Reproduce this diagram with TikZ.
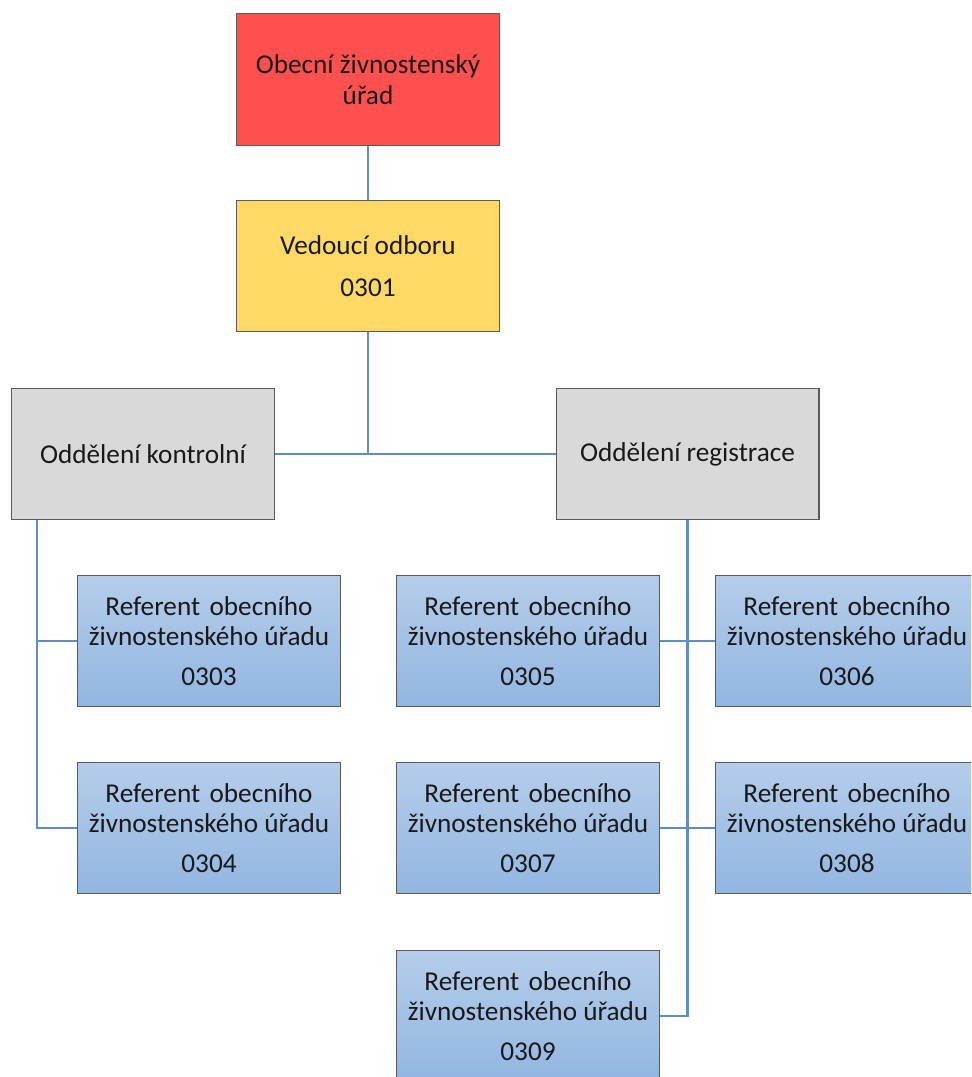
\documentclass[tikz,border=0pt]{standalone}
\usepackage{fontspec}
\setmainfont{Carlito}
\usetikzlibrary{positioning}

\definecolor{uradred}{RGB}{255,80,80}
\definecolor{vedyellow}{RGB}{255,217,102}
\definecolor{oddgray}{RGB}{217,217,217}
\definecolor{reftop}{RGB}{181,205,234}
\definecolor{refbottom}{RGB}{146,182,225}
\definecolor{linkblue}{RGB}{96,142,196}
\definecolor{edgegray}{RGB}{90,90,90}

\begin{document}
\begin{tikzpicture}[
    x=0.02cm, y=-0.02cm,
    % Common look of all boxes
    every node/.style={
        align=center,
        inner sep=0pt,
        text=black!90,
        font=\fontsize{15.5}{17.5}\selectfont
    },
    boxbase/.style={
        draw=edgegray,
        line width=0.6pt,
        minimum width=5.26cm,
        minimum height=2.63cm
    },
    % Box styles for the levels
    urad box/.style={boxbase, fill=uradred},
    head box/.style={boxbase, fill=vedyellow},
    dept box/.style={boxbase, fill=oddgray},
    ref box/.style={
        boxbase,
        top color=reftop,
        bottom color=refbottom
    },
    link/.style={draw=linkblue, line width=1.6pt}
]
    \useasboundingbox (0,0) rectangle (971,1077);
    \clip (0,0) rectangle (971,1077);

    % Top of the chart
    \node[urad box] (urad) at (368,79.5) {Obecní živnostenský\\úřad};
    \node[head box] (vedouci) at (368,266) {Vedoucí odboru\\[6pt]0301};

    % Departments
    \node[dept box] (kontrol) at (143,454) {Oddělení kontrolní};
    \node[dept box] (registr) at (687.5,454) {Oddělení registrace};

    % Referents of the control department
    \node[ref box] (r0303) at (209,641) {Referent\hspace{0.12em} obecního\\živnostenského úřadu\\[5pt]0303};
    \node[ref box] (r0304) at (209,828) {Referent\hspace{0.12em} obecního\\živnostenského úřadu\\[5pt]0304};

    % Referents of the registration department
    \node[ref box] (r0305) at (528,641) {Referent\hspace{0.12em} obecního\\živnostenského úřadu\\[5pt]0305};
    \node[ref box] (r0306) at (847,641) {Referent\hspace{0.12em} obecního\\živnostenského úřadu\\[5pt]0306};
    \node[ref box] (r0307) at (528,828) {Referent\hspace{0.12em} obecního\\živnostenského úřadu\\[5pt]0307};
    \node[ref box] (r0308) at (847,828) {Referent\hspace{0.12em} obecního\\živnostenského úřadu\\[5pt]0308};
    \node[ref box] (r0309) at (528,1016) {Referent\hspace{0.12em} obecního\\živnostenského úřadu\\[5pt]0309};

    % Connect the levels
    \draw[link] (urad) -- (vedouci);
    \draw[link] (kontrol.east) -- (registr.west);
    \draw[link] (vedouci.south) -- (vedouci.south |- kontrol.east);

    % Control department bus
    \draw[link] (kontrol.south west) ++(26,0) coordinate (kbus) |- (r0304.west);
    \draw[link] (r0303.west) -- (r0303.west -| kbus);

    % Registration department bus
    \draw[link] (registr.south) |- (r0309.east);
    \draw[link] (r0305.east) -- (r0306.west);
    \draw[link] (r0307.east) -- (r0308.west);
\end{tikzpicture}
\end{document}
